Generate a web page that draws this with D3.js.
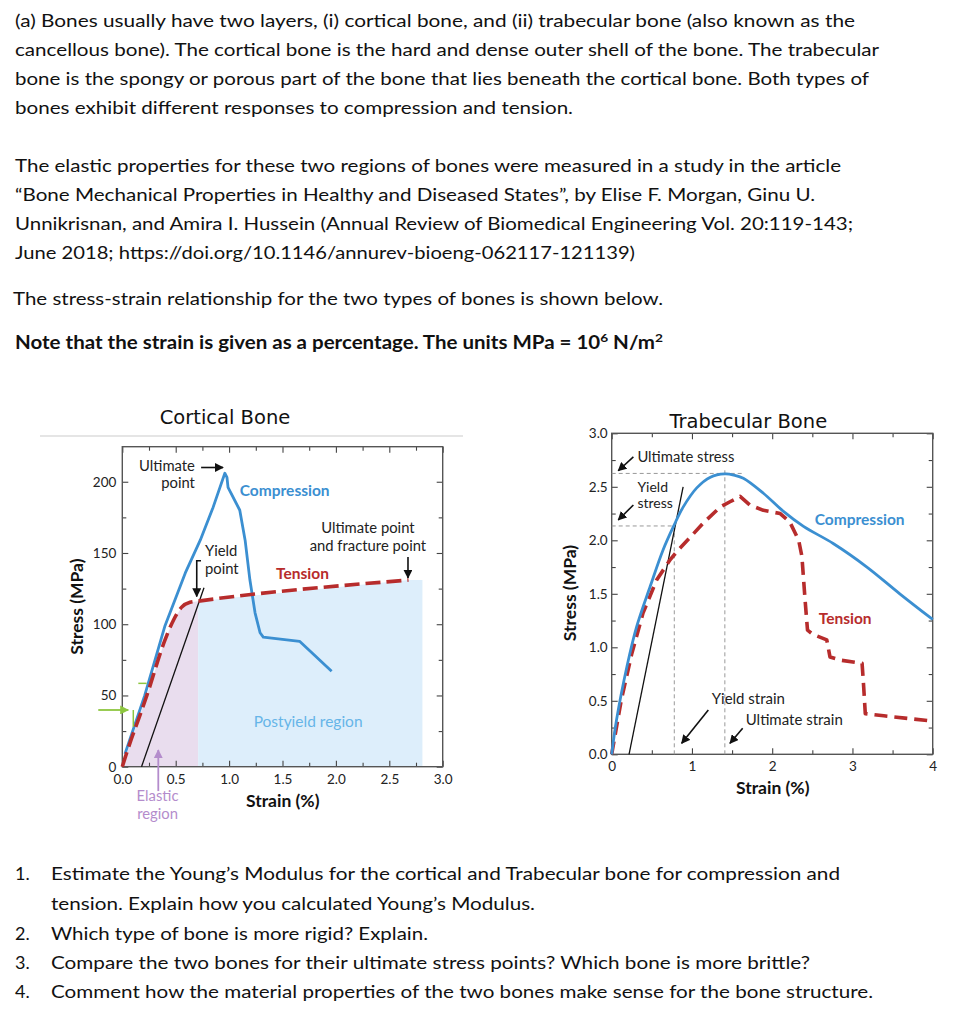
<!DOCTYPE html>
<html>
<head>
<meta charset="utf-8">
<script src="https://cdn.jsdelivr.net/npm/d3@7"></script>
<style>
  body { margin: 0; background: #fff; }
  svg { display: block; }
</style>
</head>
<body>
<svg id="canvas"></svg>
<script>
// page text
const introLines = [
  "(a) Bones usually have two layers, (i) cortical bone, and (ii) trabecular bone (also known as the",
  "cancellous bone). The cortical bone is the hard and dense outer shell of the bone. The trabecular",
  "bone is the spongy or porous part of the bone that lies beneath the cortical bone. Both types of",
  "bones exhibit different responses to compression and tension."
];
const studyLines = [
  "The elastic properties for these two regions of bones were measured in a study in the article",
  "\u201cBone Mechanical Properties in Healthy and Diseased States\u201d, by Elise F. Morgan, Ginu U.",
  "Unnikrisnan, and Amira I. Hussein (Annual Review of Biomedical Engineering Vol. 20:119-143;",
  "June 2018; https://doi.org/10.1146/annurev-bioeng-062117-121139)"
];
const relationLine = "The stress-strain relationship for the two types of bones is shown below.";
const noteParts = ["Note that the strain is given as a percentage. The units MPa = 10", "6", " N/m", "2"];
const questionNumbers = ["1.", "", "2.", "3.", "4."];
const questionLines = [
  "Estimate the Young\u2019s Modulus for the cortical and Trabecular bone for compression and",
  "tension. Explain how you calculated Young\u2019s Modulus.",
  "Which type of bone is more rigid? Explain.",
  "Compare the two bones for their ultimate stress points? Which bone is more brittle?",
  "Comment how the material properties of the two bones make sense for the bone structure."
];

// cortical bone: [strain %, stress MPa]
const corticalCompression = [
  [0.025, 9], [0.21, 50], [0.40, 99], [0.59, 136], [0.73, 159],
  [0.85, 182], [0.96, 206], [0.98, 203], [0.99, 196], [1.10, 180], [1.15, 159],
  [1.195, 131], [1.243, 108], [1.29, 94], [1.32, 91], [1.66, 88], [1.96, 67]
];
const corticalTension = [
  [0, 0], [0.025, 6], [0.23, 50], [0.40, 89], [0.48, 103], [0.556, 112],
  [0.634, 115.4], [0.71, 116.2], [2.68, 131]
];
const corticalElasticLine = [[0.18, 0], [0.765, 125.6]];
const corticalPostyieldEnd = [2.81, 131];
const corticalXTicks = [0, 0.5, 1.0, 1.5, 2.0, 2.5, 3.0];
const corticalXMinor = [0.25, 0.75, 1.25, 1.75, 2.25, 2.75];
const corticalYTicks = [0, 50, 100, 150, 200];
const corticalYMinor = [25, 75, 125, 175];

// trabecular bone: [strain %, stress MPa]
const trabecularCompression = [
  [0, 0], [0.06, 0.32], [0.19, 0.82], [0.31, 1.19], [0.48, 1.57], [0.64, 1.91],
  [0.77, 2.13], [0.89, 2.31], [1.06, 2.49], [1.23, 2.59], [1.41, 2.62], [1.52, 2.61],
  [1.64, 2.58], [1.89, 2.44], [2.14, 2.27], [2.39, 2.13], [2.76, 1.97], [3.18, 1.75],
  [3.59, 1.50], [4.0, 1.26]
];
const trabecularTension = [
  [0, 0], [0.12, 0.51], [0.25, 0.94], [0.39, 1.32], [0.56, 1.63], [0.73, 1.82],
  [0.83, 1.91], [0.98, 2.03], [1.14, 2.16], [1.35, 2.31], [1.474, 2.36], [1.60, 2.41],
  [1.72, 2.33], [1.89, 2.28], [2.10, 2.25], [2.22, 2.17], [2.33, 2.0], [2.37, 1.85],
  [2.41, 1.44], [2.44, 1.16], [2.51, 1.12], [2.68, 1.07], [2.72, 0.91], [2.85, 0.88],
  [3.12, 0.85], [3.14, 0.63], [3.16, 0.38], [3.39, 0.36], [4.0, 0.31]
];
const trabecularElasticLine = [[0.216, 0], [0.89, 2.50]];
const ultimateStress = 2.625;
const ultimateStrain = 1.41;
const yieldStress = 2.134;
const yieldStrain = 0.78;
const trabecularXTicks = [0, 1, 2, 3, 4];
const trabecularXMinor = [0.5, 1.5, 2.5, 3.5];
const trabecularYTicks = [0, 0.5, 1.0, 1.5, 2.0, 2.5, 3.0];
const trabecularYMinor = [0.25, 0.75, 1.25, 1.75, 2.25, 2.75];

const width = 955;
const height = 1024;

const blue = '#3b8fd1';
const red = '#b72c2c';
const chartFont = 'Lato, "Open Sans", sans-serif';
const pageFont = 'Lato, "Liberation Sans", sans-serif';
const titleFont = '"DejaVu Sans", Verdana, sans-serif';

let canvas = d3.select('#canvas')
  .attr('width', width)
  .attr('height', height);

canvas.append('rect').attr('width', width).attr('height', height).attr('fill', '#fff');

// arrow heads
let defs = canvas.append('defs');
let addMarker = (id, color) => {
  defs.append('marker')
    .attr('id', id)
    .attr('viewBox', '0 0 10 10')
    .attr('refX', 9).attr('refY', 5)
    .attr('markerWidth', 9).attr('markerHeight', 9)
    .attr('markerUnits', 'userSpaceOnUse')
    .attr('orient', 'auto')
    .append('path')
    .attr('d', 'M0,0 L10,5 L0,10 Z')
    .attr('fill', color);
};
addMarker('arrow-black', '#111');
addMarker('arrow-purple', '#b48ccc');
addMarker('arrow-green', '#8dc63f');

// ---------- page text ----------
let drawLine = (x, y, str, len, bold) => {
  let t = canvas.append('text')
    .attr('x', x).attr('y', y)
    .attr('font-family', pageFont)
    .attr('font-size', 18)
    .attr('font-weight', bold ? 700 : 400)
    .attr('fill', '#111')
    .text(str);
  if (len) t.attr('textLength', len).attr('lengthAdjust', 'spacingAndGlyphs');
  return t;
};

const introBase = [27, 56, 85, 114];
const introEnds = [855, 879, 869, 573];
introLines.forEach((s, i) => drawLine(15, introBase[i], s, introEnds[i] - 15));

const studyBase = [172, 201, 230, 259];
const studyEnds = [841, 815, 853, 635];
studyLines.forEach((s, i) => drawLine(15, studyBase[i], s, studyEnds[i] - 15));

drawLine(13, 305, relationLine, 650);

let note = canvas.append('text')
  .attr('x', 15).attr('y', 349)
  .attr('font-family', pageFont)
  .attr('font-size', 18)
  .attr('font-weight', 700)
  .attr('fill', '#111')
  .attr('textLength', 648)
  .attr('lengthAdjust', 'spacingAndGlyphs');
note.append('tspan').text(noteParts[0]);
note.append('tspan').attr('font-size', 12).attr('dy', -7).text(noteParts[1]);
note.append('tspan').attr('dy', 7).text(noteParts[2]);
note.append('tspan').attr('font-size', 12).attr('dy', -7).text(noteParts[3]);

const questionBase = [880, 910, 940, 969, 998];
const questionEnds = [840, 535, 428, 810, 873];
questionLines.forEach((s, i) => {
  if (questionNumbers[i]) drawLine(15, questionBase[i], questionNumbers[i]);
  drawLine(51, questionBase[i], s, questionEnds[i] - 51);
});

// ---------- shared axes ----------
let drawAxes = (x, y, xMajor, xMinor, yMajor, yMinor, xFmt, yFmt, xPad, yPad) => {
  const [xl, xr] = x.range();
  const [yb, yt] = y.range();
  let g = canvas.append('g').attr('color', '#444');
  let add = (axis, dx, dy) => g.append('g')
    .attr('transform', `translate(${dx},${dy})`)
    .call(axis)
    .call(a => a.select('.domain').remove())
    .call(a => a.selectAll('line').attr('stroke-width', 1.1));

  add(d3.axisBottom(x).tickValues(xMajor).tickSize(-6).tickPadding(xPad).tickFormat(xFmt), 0, yb);
  add(d3.axisBottom(x).tickValues(xMinor).tickSize(-4).tickFormat(''), 0, yb);
  add(d3.axisTop(x).tickValues(xMajor).tickSize(-6).tickFormat(''), 0, yt);
  add(d3.axisTop(x).tickValues(xMinor).tickSize(-4).tickFormat(''), 0, yt);
  add(d3.axisLeft(y).tickValues(yMajor).tickSize(-6).tickPadding(yPad).tickFormat(yFmt), xl, 0);
  add(d3.axisLeft(y).tickValues(yMinor).tickSize(-4).tickFormat(''), xl, 0);
  add(d3.axisRight(y).tickValues(yMajor).tickSize(-6).tickFormat(''), xr, 0);
  add(d3.axisRight(y).tickValues(yMinor).tickSize(-4).tickFormat(''), xr, 0);

  g.selectAll('text')
    .attr('font-family', chartFont)
    .attr('font-size', 13.5)
    .attr('fill', '#222');

  g.append('rect')
    .attr('x', xl).attr('y', yt)
    .attr('width', xr - xl).attr('height', yb - yt)
    .attr('fill', 'none')
    .attr('stroke', '#555')
    .attr('stroke-width', 1.4);
};

let label = (x, y, str, opts = {}) => {
  return canvas.append('text')
    .attr('x', x).attr('y', y)
    .attr('font-family', opts.family || chartFont)
    .attr('font-size', opts.size || 14.8)
    .attr('font-weight', opts.weight || 400)
    .attr('fill', opts.color || '#222')
    .attr('text-anchor', opts.anchor || 'start')
    .text(str);
};

let arrow = (x1, y1, x2, y2, marker, color, w) => {
  canvas.append('line')
    .attr('x1', x1).attr('y1', y1).attr('x2', x2).attr('y2', y2)
    .attr('stroke', color || '#111')
    .attr('stroke-width', w || 1.6)
    .attr('marker-end', `url(#${marker || 'arrow-black'})`);
};

const boldLabel = { weight: 700, size: 15.5 };
const axisTitle = { anchor: 'middle', weight: 700, size: 17.5, color: '#111' };

// ---------- cortical bone ----------
const cx = d3.scaleLinear().domain([0, 3]).range([122.3, 442.7]);
const cy = d3.scaleLinear().domain([0, 224.6]).range([766.7, 446.7]);

label(225, 424, 'Cortical Bone', { family: titleFont, size: 19.5, anchor: 'middle', color: '#111' });
canvas.append('line')
  .attr('x1', 40).attr('x2', 463).attr('y1', 436).attr('y2', 436)
  .attr('stroke', '#dcdcdc').attr('stroke-width', 1.5);

let corticalArea = d3.area()
  .x(d => cx(d[0]))
  .y0(cy(0))
  .y1(d => cy(d[1]));

const splitStrain = 0.71;
canvas.append('path')
  .datum(corticalTension.filter(d => d[0] <= splitStrain))
  .attr('d', corticalArea)
  .attr('fill', '#e9ddee');
canvas.append('path')
  .datum(corticalTension.filter(d => d[0] >= splitStrain).concat([corticalPostyieldEnd]))
  .attr('d', corticalArea)
  .attr('fill', '#ddeefb');

drawAxes(cx, cy, corticalXTicks, corticalXMinor, corticalYTicks, corticalYMinor,
  d3.format('.1f'), d3.format('d'), 8, 6);

let corticalLine = d3.line().x(d => cx(d[0])).y(d => cy(d[1]));

canvas.append('path')
  .datum(corticalElasticLine)
  .attr('d', corticalLine)
  .attr('fill', 'none').attr('stroke', '#111').attr('stroke-width', 1.3);

canvas.append('path')
  .datum(corticalCompression)
  .attr('d', corticalLine)
  .attr('fill', 'none').attr('stroke', blue).attr('stroke-width', 2.8)
  .attr('stroke-linejoin', 'round');

canvas.append('path')
  .datum(corticalTension)
  .attr('d', corticalLine.curve(d3.curveMonotoneX))
  .attr('fill', 'none').attr('stroke', red).attr('stroke-width', 3.6)
  .attr('stroke-dasharray', '15,6');

// green markers near the origin
arrow(cx(-0.225), cy(39.8), cx(0.056), cy(39.8), 'arrow-green', '#8dc63f', 1.8);
canvas.append('line')
  .attr('x1', cx(0.103)).attr('x2', cx(0.103)).attr('y1', cy(39.8)).attr('y2', cy(28))
  .attr('stroke', '#8dc63f').attr('stroke-width', 1.5);
canvas.append('line')
  .attr('x1', cx(0.15)).attr('x2', cx(0.228)).attr('y1', cy(58.5)).attr('y2', cy(58.5))
  .attr('stroke', '#8dc63f').attr('stroke-width', 1.5);

// cortical annotations
label(cx(0.68), cy(207.5), 'Ultimate', { anchor: 'end' });
label(cx(0.68), cy(195.6), 'point', { anchor: 'end' });
arrow(cx(0.738), cy(210), cx(0.943), cy(210));

label(cx(1.10), cy(190), 'Compression', { ...boldLabel, color: blue });

label(cx(2.30), cy(164.2), 'Ultimate point', { anchor: 'middle' });
label(cx(2.30), cy(151.6), 'and fracture point', { anchor: 'middle' });
arrow(cx(2.675), cy(147.2), cx(2.675), cy(132.5));

label(cx(1.44), cy(131.5), 'Tension', { ...boldLabel, color: red });

label(cx(0.774), cy(147.9), 'Yield');
label(cx(0.774), cy(135.2), 'point');
canvas.append('path')
  .attr('d', `M${cx(0.737)},${cy(144.6)} H${cx(0.697)} V${cy(119.5)}`)
  .attr('fill', 'none').attr('stroke', '#111').attr('stroke-width', 1.6)
  .attr('marker-end', 'url(#arrow-black)');

label(cx(1.74), cy(27.9), 'Postyield region', { anchor: 'middle', color: '#66b5e8', size: 15.5 });

arrow(cx(0.337), cy(-17.1), cx(0.337), cy(11.7), 'arrow-purple', '#b48ccc', 1.8);
label(cx(0.33), cy(-24), 'Elastic', { anchor: 'middle', color: '#b48ccc' });
label(cx(0.33), cy(-36.7), 'region', { anchor: 'middle', color: '#b48ccc' });

label(282.7, 807, 'Strain (%)', axisTitle);
label(0, 0, 'Stress (MPa)', axisTitle)
  .attr('transform', 'translate(82.5,606.7) rotate(-90)');

// ---------- trabecular bone ----------
const tx = d3.scaleLinear().domain([0, 4]).range([611.7, 932.7]);
const ty = d3.scaleLinear().domain([0, 3]).range([754.3, 433.3]);

label(748.3, 428, 'Trabecular Bone', { family: titleFont, size: 19.5, anchor: 'middle', color: '#111' });

drawAxes(tx, ty, trabecularXTicks, trabecularXMinor, trabecularYTicks, trabecularYMinor,
  d3.format('d'), d3.format('.1f'), 7, 4);

// guide lines
let guides = [
  [[0, ultimateStress], [1.64, ultimateStress]],
  [[0, yieldStress], [yieldStrain, yieldStress]],
  [[yieldStrain, 0], [yieldStrain, yieldStress]],
  [[ultimateStrain, 0], [ultimateStrain, 2.67]]
];
let trabecularLine = d3.line().x(d => tx(d[0])).y(d => ty(d[1]));
canvas.selectAll('path.guide')
  .data(guides)
  .enter()
  .append('path')
  .attr('class', 'guide')
  .attr('d', trabecularLine)
  .attr('fill', 'none').attr('stroke', '#999').attr('stroke-width', 1)
  .attr('stroke-dasharray', '4,3');

canvas.append('path')
  .datum(trabecularElasticLine)
  .attr('d', trabecularLine)
  .attr('fill', 'none').attr('stroke', '#111').attr('stroke-width', 1.3);

canvas.append('path')
  .datum(trabecularTension)
  .attr('d', trabecularLine)
  .attr('fill', 'none').attr('stroke', red).attr('stroke-width', 3.6)
  .attr('stroke-linejoin', 'round')
  .attr('stroke-dasharray', '13,7');

canvas.append('path')
  .datum(trabecularCompression)
  .attr('d', d3.line().x(d => tx(d[0])).y(d => ty(d[1])).curve(d3.curveCatmullRom))
  .attr('fill', 'none').attr('stroke', blue).attr('stroke-width', 2.8);

// trabecular annotations
label(tx(0.32), ty(2.735), 'Ultimate stress');
arrow(tx(0.27), ty(2.78), tx(0.082), ty(2.65));
label(tx(0.32), ty(2.455), 'Yield', { size: 14 });
label(tx(0.32), ty(2.30), 'stress', { size: 14 });
arrow(tx(0.27), ty(2.33), tx(0.082), ty(2.19));

label(tx(2.53), ty(2.14), 'Compression', { ...boldLabel, color: blue });
label(tx(2.58), ty(1.215), 'Tension', { ...boldLabel, color: red });

label(tx(1.246), ty(0.47), 'Yield strain', { size: 15 });
arrow(tx(1.204), ty(0.414), tx(0.872), ty(0.103));
label(tx(1.67), ty(0.274), 'Ultimate strain', { size: 15 });
arrow(tx(1.632), ty(0.243), tx(1.474), ty(0.103));

label(772.7, 794, 'Strain (%)', axisTitle);
label(0, 0, 'Stress (MPa)', axisTitle)
  .attr('transform', 'translate(575.5,593) rotate(-90)');
</script>
</body>
</html>
